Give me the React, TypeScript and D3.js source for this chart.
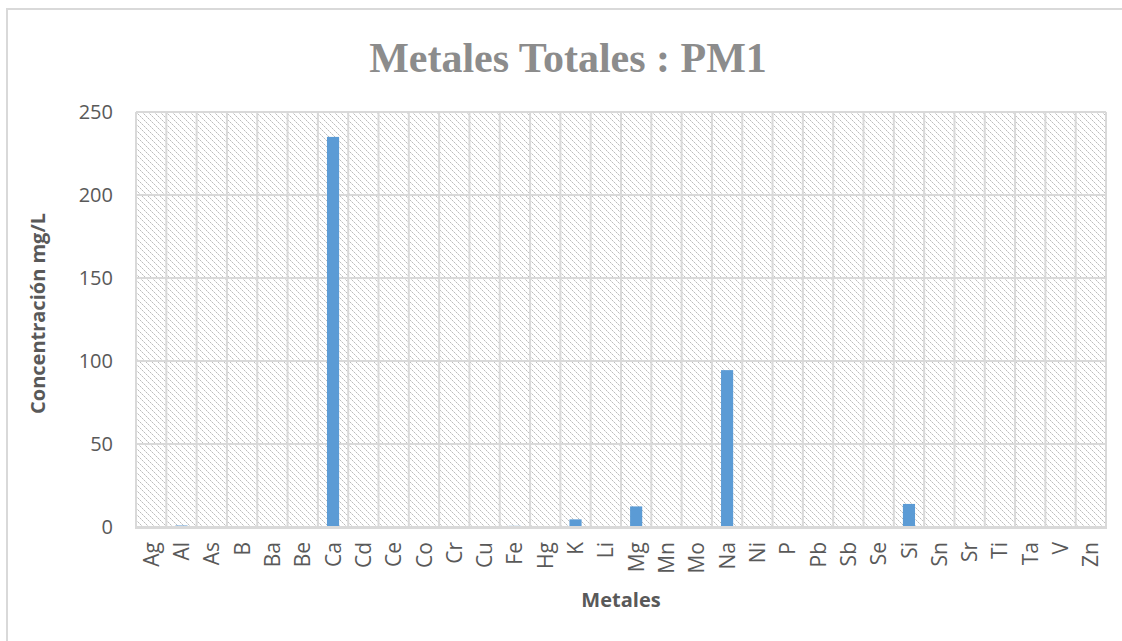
import React from "react";
import * as d3 from "d3";

const categories = ["Ag","Al","As","B","Ba","Be","Ca","Cd","Ce","Co","Cr","Cu","Fe","Hg","K","Li","Mg","Mn","Mo","Na","Ni","P","Pb","Sb","Se","Si","Sn","Sr","Ti","Ta","V","Zn"];
const values = [0,0.9,0,0,0,0,235,0,0,0,0,0,0.7,0,4.6,0,12.4,0,0,94.5,0,0,0,0,0,13.9,0,0,0,0,0,0];
const yTicks = [0,50,100,150,200,250];

const W = 1122, H = 641;
const plot = { left: 136, right: 1106, top: 112, bottom: 527 };
const GRID = "#d9d9d9";
const TEXT = "#595959";
const BAR = "#5b9bd5";

export default function App() {
  const x = d3.scaleBand<string>().domain(categories).range([plot.left, plot.right]).paddingInner(0).paddingOuter(0);
  const y = d3.scaleLinear().domain([0, 250]).range([plot.bottom, plot.top]);
  const bw = x.bandwidth() * 0.4;
  return (
    <svg width={W} height={H} style={{ position: "absolute", left: 0, top: 0, background: "#fff" }}>
      <defs>
        <pattern id="hatch" width={6} height={6} patternUnits="userSpaceOnUse">
          <rect width={6} height={6} fill="#fff" />
          <rect x={0} y={0} width={1} height={1} fill="#bcbcbc" />
          <rect x={2} y={2} width={1} height={1} fill="#bcbcbc" />
          <rect x={4} y={4} width={1} height={1} fill="#bcbcbc" />
          <rect x={1} y={1} width={1} height={1} fill="#dcdcdc" />
          <rect x={3} y={3} width={1} height={1} fill="#dcdcdc" />
          <rect x={5} y={5} width={1} height={1} fill="#dcdcdc" />
        </pattern>
      </defs>
      <rect x={7} y={9} width={1130} height={650} fill="#fff" stroke={GRID} strokeWidth={2} />
      <text x={568} y={72} textAnchor="middle" fontFamily="Liberation Serif, serif" fontWeight="bold" fontSize={42} fill="#8c8c8c">
        Metales Totales : PM1
      </text>
      <rect x={plot.left} y={plot.top} width={plot.right - plot.left} height={plot.bottom - plot.top} fill="url(#hatch)" />
      {yTicks.map((t) => (
        <line key={"h" + t} x1={plot.left} x2={plot.right} y1={y(t)} y2={y(t)} stroke={GRID} strokeWidth={2} />
      ))}
      {categories.map((c) => (
        <line key={"v" + c} x1={x(c)!} x2={x(c)!} y1={plot.top} y2={plot.bottom} stroke={GRID} strokeWidth={2} />
      ))}
      <line x1={plot.right} x2={plot.right} y1={plot.top} y2={plot.bottom} stroke={GRID} strokeWidth={2} />
      {categories.map((c, i) => {
        const v = values[i];
        if (!v) return null;
        const cx = x(c)! + x.bandwidth() / 2;
        return <rect key={"b" + c} x={cx - bw / 2} y={y(v)} width={bw} height={y(0) - y(v)} fill={BAR} />;
      })}
      <line x1={plot.left - 1} x2={plot.right + 1} y1={plot.bottom + 0.5} y2={plot.bottom + 0.5} stroke={GRID} strokeWidth={3} />
      {yTicks.map((t) => (
        <text key={"yt" + t} x={113} y={y(t)} dy="0.36em" textAnchor="end" fontFamily="Open Sans, sans-serif" fontSize={20} fill={TEXT}>
          {t}
        </text>
      ))}
      {categories.map((c) => {
        const cx = x(c)! + x.bandwidth() / 2;
        return (
          <text key={"xt" + c} transform={`translate(${cx},${plot.bottom + 15}) rotate(-90)`} dy="0.36em" textAnchor="end" fontFamily="Open Sans, sans-serif" fontSize={21} fill={TEXT}>
            {c}
          </text>
        );
      })}
      <text transform={`translate(38,${(plot.top + plot.bottom) / 2 - 6}) rotate(-90)`} textAnchor="middle" dy="0.36em" fontFamily="Open Sans, sans-serif" fontWeight="bold" fontSize={20} fill={TEXT}>
        Concentración mg/L
      </text>
      <text x={621} y={600} dy="0.36em" textAnchor="middle" fontFamily="Open Sans, sans-serif" fontWeight="bold" fontSize={20} fill={TEXT}>
        Metales
      </text>
    </svg>
  );
}
